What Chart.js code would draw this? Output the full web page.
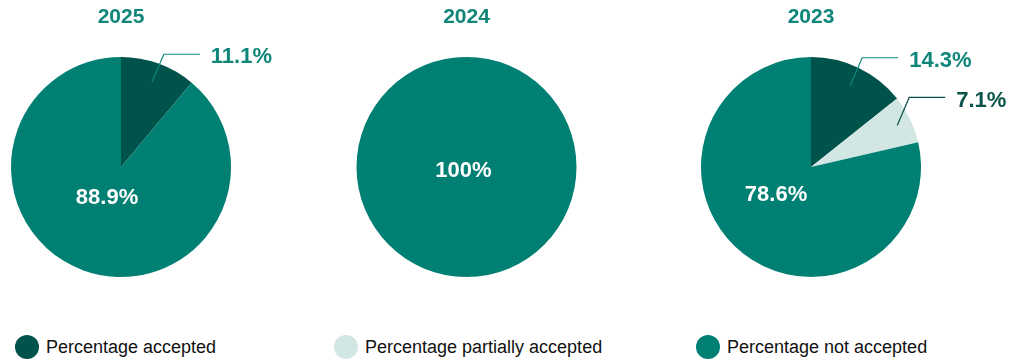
<!DOCTYPE html>
<html>
<head>
<meta charset="utf-8">
<script src="https://cdn.jsdelivr.net/npm/chart.js@4/dist/chart.umd.min.js"></script>
<style>
  html, body { margin: 0; padding: 0; background: #fff; }
  body { width: 1016px; height: 362px; position: relative; overflow: hidden; font-family: "Liberation Sans", Arial, sans-serif; }
  canvas.pie { position: absolute; top: 0; }
  .legend { position: absolute; top: 335px; left: 0; width: 1016px; height: 24px; }
  .legend .item { position: absolute; top: 0; height: 24px; display: flex; align-items: center; white-space: nowrap; }
  .legend .dot { width: 24px; height: 24px; border-radius: 50%; margin-right: 7px; flex: none; }
  .legend .txt { font-size: 18px; color: #111; line-height: 24px; }
</style>
</head>
<body>
<canvas id="pie0" class="pie" width="338" height="300" style="left:0px"></canvas>
<canvas id="pie1" class="pie" width="338" height="300" style="left:339px"></canvas>
<canvas id="pie2" class="pie" width="338" height="300" style="left:678px"></canvas>
<div class="legend" id="legend"></div>

<script>
// Chart data
const years = ['2025', '2024', '2023'];
const categories = ['Percentage accepted', 'Percentage partially accepted', 'Percentage not accepted'];
const accepted = [11.1, 0, 14.3];
const partiallyAccepted = [0, 0, 7.1];
const notAccepted = [88.9, 100, 78.6];

// Colours
const sliceColors = ['#00534b', '#d2e6e3', '#007f73'];
const outsideLabelColors = ['#0f8679', '#0a534b'];
const titleColor = '#0f8679';

// Layout of each pie on its canvas
const canvasLeft = [0, 339, 678];
const pieCenterX = [121, 466.5, 811];
const pieCenterY = 167;
const pieRadius = 110;
const canvasW = 338, canvasH = 300;
const insideLabelOffset = [[-14, 31], [-3, 4], [-35, 28]];

const FONT = '"Liberation Sans", Arial, Helvetica, sans-serif';

const pieLabels = {
  id: 'pieLabels',
  afterDatasetsDraw(chart, args, opts) {
    const ctx = chart.ctx;
    const meta = chart.getDatasetMeta(0);
    const values = chart.data.datasets[0].data;
    const first = meta.data[0];
    const cx = first.x, cy = first.y;
    ctx.save();
    ctx.textBaseline = 'middle';

    // year heading
    ctx.font = 'bold 21px ' + FONT;
    ctx.fillStyle = titleColor;
    ctx.textAlign = 'center';
    ctx.fillText(opts.title, cx, 17);

    meta.data.forEach((arc, i) => {
      const v = values[i];
      if (!v) return;
      const p = arc.getProps(['startAngle', 'endAngle', 'outerRadius'], true);
      const mid = (p.startAngle + p.endAngle) / 2;
      const text = v + '%';
      ctx.font = 'bold 22px ' + FONT;
      if (v < 50) {
        const color = outsideLabelColors[Math.min(i, outsideLabelColors.length - 1)];
        // leader line starts inside the slice, bends up and runs out to the label
        const r0 = p.outerRadius * (i === 0 ? 0.82 : 0.87);
        const x0 = cx + Math.cos(mid) * r0;
        const y0 = cy + Math.sin(mid) * r0;
        const x1 = x0 + 12, y1 = y0 - 28;
        const x2 = x1 + 36;
        ctx.strokeStyle = color;
        ctx.lineWidth = 1.2;
        ctx.beginPath();
        ctx.moveTo(x0, y0);
        ctx.lineTo(x1, y1);
        ctx.lineTo(x2, y1);
        ctx.stroke();
        ctx.fillStyle = color;
        ctx.textAlign = 'left';
        ctx.fillText(text, x2 + 11, y1 + 3);
      } else {
        const off = opts.inside;
        ctx.fillStyle = '#ffffff';
        ctx.textAlign = 'center';
        ctx.fillText(text, cx + off[0], cy + off[1]);
      }
    });
    ctx.restore();
  }
};

years.forEach((year, k) => {
  const localCx = pieCenterX[k] - canvasLeft[k];
  new Chart(document.getElementById('pie' + k), {
    type: 'pie',
    data: {
      labels: categories,
      datasets: [{
        data: [accepted[k], partiallyAccepted[k], notAccepted[k]],
        backgroundColor: sliceColors,
        borderWidth: 0,
        hoverOffset: 0,
        offset: 0
      }]
    },
    options: {
      responsive: false,
      animation: false,
      radius: pieRadius,
      layout: {
        padding: {
          left: localCx - pieRadius,
          right: canvasW - (localCx + pieRadius),
          top: pieCenterY - pieRadius,
          bottom: canvasH - (pieCenterY + pieRadius)
        }
      },
      plugins: {
        legend: { display: false },
        tooltip: { enabled: false },
        pieLabels: { title: year, inside: insideLabelOffset[k] }
      },
      events: []
    },
    plugins: [pieLabels]
  });
});

// Legend
const legendX = [15, 334, 696];
const legend = document.getElementById('legend');
categories.forEach((name, i) => {
  const item = document.createElement('div');
  item.className = 'item';
  item.style.left = legendX[i] + 'px';
  const dot = document.createElement('span');
  dot.className = 'dot';
  dot.style.background = sliceColors[i];
  const txt = document.createElement('span');
  txt.className = 'txt';
  txt.textContent = name;
  item.appendChild(dot);
  item.appendChild(txt);
  legend.appendChild(item);
});
</script>
</body>
</html>
